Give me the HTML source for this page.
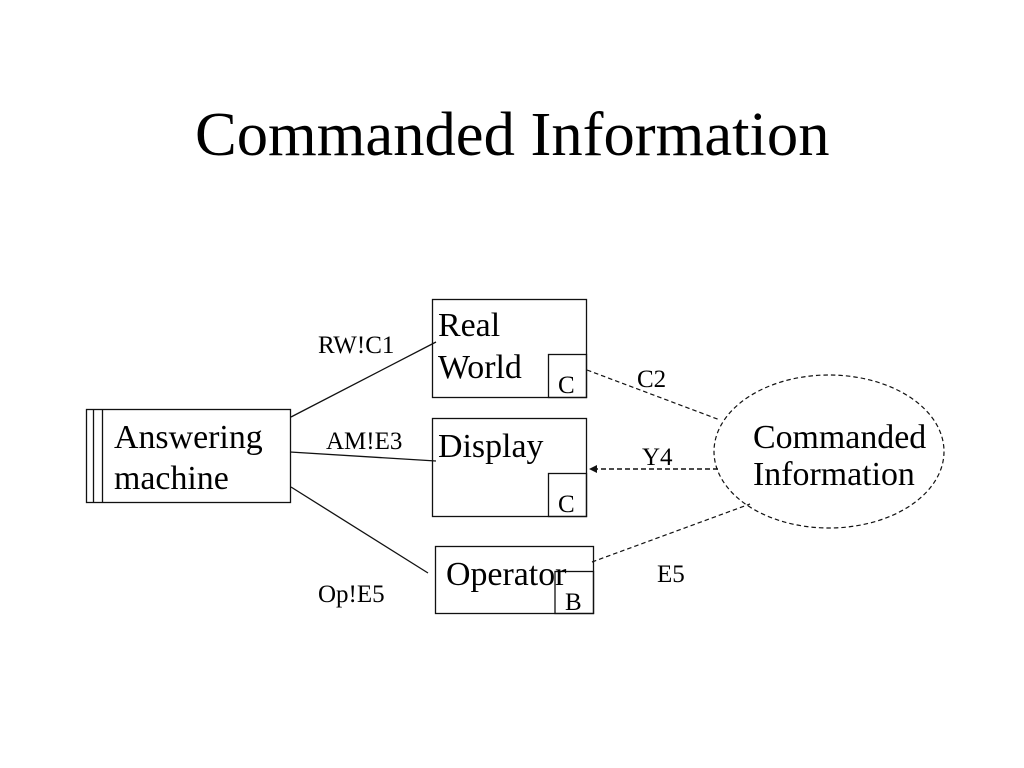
<!DOCTYPE html>
<html><head><meta charset="utf-8"><style>
html,body{margin:0;padding:0;background:#fff}
svg{display:block}
text{font-family:"Liberation Serif",serif;fill:#000}
.m{font-size:33.9px}.s{font-size:25px}
</style></head><body>
<svg width="1024" height="768" viewBox="0 0 1024 768" xmlns="http://www.w3.org/2000/svg">
<rect width="1024" height="768" fill="#fff"/>
<text x="195" y="155" font-size="62.6">Commanded Information</text>
<g fill="none" stroke="#111" stroke-width="1.3">
<rect x="86.5" y="409.5" width="204" height="93"/>
<path d="M93.500 409.5V502.5M102.500 409.5V502.5"/>
<rect x="432.5" y="299.5" width="154" height="98"/>
<rect x="548.5" y="354.5" width="38" height="43"/>
<rect x="432.5" y="418.5" width="154" height="98"/>
<rect x="548.5" y="473.5" width="38" height="43"/>
<rect x="435.5" y="546.5" width="158" height="67"/>
<rect x="555" y="571.5" width="38.500" height="42"/>
<path d="M291 417L436 342M290 452L436 461M291 487L428 573"/>
</g>
<g fill="none" stroke="#111" stroke-width="1.2" stroke-dasharray="4.5 3">
<ellipse cx="829" cy="451.500" rx="115" ry="76.500"/>
<path d="M587 370L720 420M592 562L750 504"/>
</g>
<path d="M718 469H596" fill="none" stroke="#111" stroke-width="1.5" stroke-dasharray="5 3"/>
<path d="M589 469L597 465V473Z" fill="#111"/>
<text class="m" x="438" y="336">Real</text>
<text class="m" x="438" y="378">World</text>
<text class="m" x="438" y="457">Display</text>
<text class="m" x="446" y="585">Operator</text>
<text class="m" x="114" y="448">Answering</text>
<text class="m" x="114" y="489">machine</text>
<text class="m" x="753" y="448">Commanded</text>
<text class="m" x="753" y="485">Information</text>
<text class="s" x="318" y="353">RW!C1</text>
<text class="s" x="326" y="449">AM!E3</text>
<text class="s" x="318" y="602">Op!E5</text>
<text class="s" x="637" y="387">C2</text>
<text class="s" x="642" y="465">Y4</text>
<text class="s" x="657" y="582">E5</text>
<text class="s" x="558" y="393">C</text>
<text class="s" x="558" y="512">C</text>
<text class="s" x="565" y="610">B</text>
</svg>
</body></html>
